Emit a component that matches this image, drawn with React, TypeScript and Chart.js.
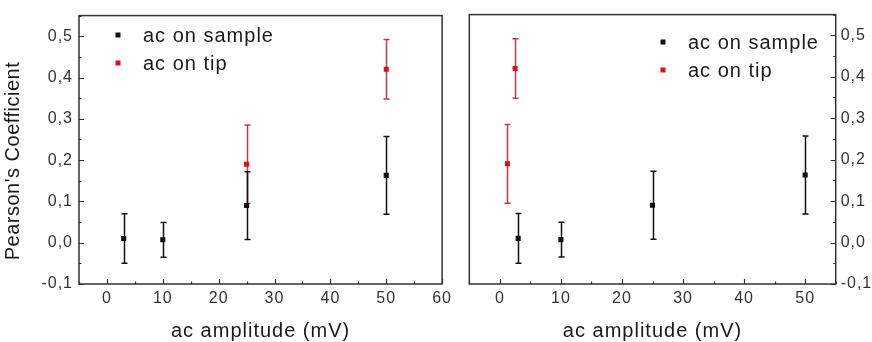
import React, { useEffect, useRef } from 'react';
import { Chart, registerables } from 'chart.js';

Chart.register(...registerables);

// ---- data ----
const sampleX = [3, 10, 25, 50];
const sampleY = [0.010, 0.007, 0.090, 0.163];
const sampleErr = [0.060, 0.042, 0.082, 0.094];

const tipXLeft = [25, 50];
const tipXRight = [1.25, 2.5];
const tipY = [0.190, 0.420];
const tipErr = [0.095, 0.072];

const xTickValues = [0, 10, 20, 30, 40, 50, 60];
const yTickValues = [-0.1, 0.0, 0.1, 0.2, 0.3, 0.4, 0.5];

const legendLabels = ['ac on sample', 'ac on tip'];
const xTitle = 'ac amplitude (mV)';
const yTitle = "Pearson's Coefficient";

const FONT = "'Liberation Sans', Arial, Helvetica, sans-serif";
const BLACK = '#111111';
const RED = '#e0101a';
const RED_BAR = '#c43a48';
const AXIS = '#333333';

const fmtY = (v: number) => {
  const s = (Math.round(v * 10) / 10).toFixed(1);
  return s.replace('.', ',').replace('-0,0', '0,0');
};

type PanelOpts = {
  legendX: number;
  legendY: number;
  drawYTitle: boolean;
  ySide: 'left' | 'right';
};

const panelPlugin = {
  id: 'panel',
  beforeDraw(chart: any) {
    const ctx = chart.ctx;
    ctx.save();
    ctx.fillStyle = '#ffffff';
    ctx.fillRect(0, 0, chart.width, chart.height);
    ctx.restore();
    (ctx as any).letterSpacing = '1px';
  },
  beforeDatasetsDraw(chart: any) {
    const ctx = chart.ctx;
    const xs = chart.scales.x;
    const ys = chart.scales.y;
    for (let d = chart.data.datasets.length - 1; d >= 0; d--) {
      const ds = chart.data.datasets[d];
      const errs: number[] = ds.errors || [];
      ctx.save();
      ctx.strokeStyle = ds.barColor;
      ctx.lineWidth = 1.5;
      ds.data.forEach((p: any, i: number) => {
        const e = errs[i];
        if (e == null) return;
        const px = Math.round(xs.getPixelForValue(p.x)) + 0.5;
        const top = ys.getPixelForValue(p.y + e);
        const bot = ys.getPixelForValue(p.y - e);
        ctx.beginPath();
        ctx.moveTo(px, top);
        ctx.lineTo(px, bot);
        ctx.moveTo(px - 3, top);
        ctx.lineTo(px + 3, top);
        ctx.moveTo(px - 3, bot);
        ctx.lineTo(px + 3, bot);
        ctx.stroke();
      });
      ctx.restore();
    }
  },
  afterDraw(chart: any) {
    const ctx = chart.ctx;
    const o: PanelOpts = chart.options.plugins.panel;
    const a = chart.chartArea;
    const xs = chart.scales.x;
    const ys = chart.scales.y;
    ctx.save();
    (ctx as any).letterSpacing = '0px';
    // frame
    ctx.strokeStyle = AXIS;
    ctx.lineWidth = 1.5;
    ctx.strokeRect(a.left, a.top, a.right - a.left, a.bottom - a.top);
    // x ticks (inward, bottom)
    ctx.lineWidth = 1.2;
    ctx.beginPath();
    for (let k = -1; k <= 12; k++) {
      const v = k * 5;
      if (v < xs.min - 0.001 || v > xs.max + 0.001) continue;
      const px = Math.round(xs.getPixelForValue(v)) + 0.5;
      const len = k % 2 === 0 ? 5 : 2.5;
      ctx.moveTo(px, a.bottom);
      ctx.lineTo(px, a.bottom - len);
    }
    // y ticks (inward, on labelled side)
    for (let k = -2; k <= 11; k++) {
      const v = k * 0.05;
      if (v < ys.min - 0.001 || v > ys.max + 0.001) continue;
      const py = Math.round(ys.getPixelForValue(v)) + 0.5;
      const len = k % 2 === 0 ? 5 : 2.5;
      if (o.ySide === 'left') {
        ctx.moveTo(a.left, py);
        ctx.lineTo(a.left + len, py);
      } else {
        ctx.moveTo(a.right, py);
        ctx.lineTo(a.right - len, py);
      }
    }
    ctx.stroke();

    // legend
    (ctx as any).letterSpacing = '1px';
    ctx.font = `20px ${FONT}`;
    ctx.textBaseline = 'middle';
    ctx.textAlign = 'left';
    chart.data.datasets.forEach((ds: any, i: number) => {
      const yy = o.legendY + i * 28;
      ctx.fillStyle = ds.backgroundColor;
      ctx.fillRect(o.legendX - 2.5, yy - 2.5, 5, 5);
      ctx.fillStyle = '#1a1a1a';
      ctx.fillText(ds.label, o.legendX + 25, yy + 1);
    });

    // x title
    ctx.fillStyle = '#1a1a1a';
    ctx.textAlign = 'center';
    ctx.textBaseline = 'alphabetic';
    ctx.fillText(xTitle, (a.left + a.right) / 2, 337);

    // y title
    if (o.drawYTitle) {
      (ctx as any).letterSpacing = '0.5px';
      ctx.translate(13, 161);
      ctx.rotate(-Math.PI / 2);
      ctx.textBaseline = 'middle';
      ctx.fillText(yTitle, 0, 0);
    }
    ctx.restore();
  },
};

function makeConfig(tipX: number[], xMax: number, opts: PanelOpts, yWidth: number, padLeft: number, padRight: number): any {
  return {
    type: 'scatter',
    data: {
      datasets: [
        {
          label: legendLabels[0],
          data: sampleX.map((x, i) => ({ x, y: sampleY[i] })),
          errors: sampleErr,
          barColor: BLACK,
          backgroundColor: BLACK,
          borderColor: BLACK,
          borderWidth: 0,
          pointStyle: 'rect',
          pointRadius: 3.6,
        },
        {
          label: legendLabels[1],
          data: tipX.map((x, i) => ({ x, y: tipY[i] })),
          errors: tipErr,
          barColor: RED_BAR,
          backgroundColor: RED,
          borderColor: RED,
          borderWidth: 0,
          pointStyle: 'rect',
          pointRadius: 3.6,
        },
      ],
    },
    options: {
      responsive: false,
      animation: false,
      events: [],
      layout: { padding: { top: 14, left: padLeft, right: padRight, bottom: 0 } },
      plugins: {
        legend: { display: false },
        tooltip: { enabled: false },
        panel: opts,
      },
      scales: {
        x: {
          type: 'linear',
          min: -5,
          max: xMax,
          grid: { display: false, drawTicks: false },
          border: { display: false },
          afterBuildTicks: (s: any) => {
            s.ticks = xTickValues.filter((v) => v <= xMax).map((v) => ({ value: v }));
          },
          ticks: {
            padding: 5,
            color: '#333',
            font: { size: 16, family: FONT },
            callback: (v: number) => String(v),
            maxRotation: 0,
            autoSkip: false,
          },
          afterFit: (s: any) => {
            s.height = 58;
          },
        },
        y: {
          type: 'linear',
          position: opts.ySide,
          min: -0.1,
          max: 0.55,
          grid: { display: false, drawTicks: false },
          border: { display: false },
          afterBuildTicks: (s: any) => {
            s.ticks = yTickValues.map((v) => ({ value: v }));
          },
          ticks: {
            padding: opts.ySide === 'left' ? 6 : 5,
            color: '#333',
            font: { size: 16, family: FONT },
            callback: (v: number) => fmtY(v),
            autoSkip: false,
          },
          afterFit: (s: any) => {
            s.width = yWidth;
          },
        },
      },
    },
    plugins: [panelPlugin],
  };
}

export default function App() {
  const leftRef = useRef<HTMLCanvasElement>(null);
  const rightRef = useRef<HTMLCanvasElement>(null);

  useEffect(() => {
    const left = new Chart(
      leftRef.current as HTMLCanvasElement,
      makeConfig(tipXLeft, 60, { legendX: 118, legendY: 35, drawYTitle: true, ySide: 'left' }, 79, 0, 12)
    );
    const right = new Chart(
      rightRef.current as HTMLCanvasElement,
      makeConfig(tipXRight, 55, { legendX: 207, legendY: 42, drawYTitle: false, ySide: 'right' }, 36.3, 13.3, 0)
    );
    return () => {
      left.destroy();
      right.destroy();
    };
  }, []);

  return (
    <div style={{ position: 'fixed', left: 0, top: 0, width: 872, height: 342, background: '#fff', overflow: 'hidden' }}>
      <canvas ref={leftRef} width={456} height={342} style={{ position: 'absolute', left: 0, top: 0, display: 'block' }} />
      <canvas ref={rightRef} width={416} height={342} style={{ position: 'absolute', left: 456, top: 0, display: 'block' }} />
    </div>
  );
}
